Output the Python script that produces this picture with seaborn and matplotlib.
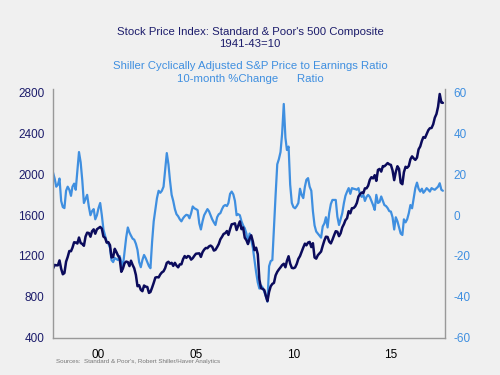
import matplotlib

matplotlib.use("Agg")
import matplotlib.dates as mdates
import matplotlib.pyplot as plt
import pandas as pd
import seaborn as sns

# Monthly observations, Mar 1998 - Mar 2018
START = "1998-03-01"
END = "2018-03-01"

# S&P 500 composite, monthly average (1941-43=10)
SP500 = [
    1076.8, 1112.2, 1108.4, 1108.4, 1156.6, 1074.6, 1020.6, 1032.5, 1144.4, 1190.1,
    1248.8, 1246.6, 1281.7, 1334.8, 1332.1, 1322.6, 1381.0, 1327.5, 1318.2, 1300.0, 1391.0, 1428.7,
    1425.6, 1388.9, 1442.2, 1461.4, 1418.5, 1462.0, 1473.0, 1485.5, 1468.1, 1390.1, 1378.0, 1330.9,
    1335.8, 1305.8, 1185.9, 1189.8, 1270.4, 1238.7, 1204.5, 1178.5, 1044.6, 1076.6, 1129.7, 1144.9,
    1140.2, 1100.7, 1153.8, 1112.0, 1079.3, 1014.0, 903.6, 912.6, 867.8, 854.6, 909.9, 899.2,
    895.8, 837.6, 846.6, 890.0, 936.0, 988.0, 992.5, 989.5, 1019.4, 1038.7, 1049.9, 1080.6,
    1132.5, 1143.4, 1124.0, 1133.1, 1102.8, 1132.8, 1105.8, 1088.9, 1117.7, 1118.1, 1168.9, 1199.2,
    1181.4, 1199.6, 1194.9, 1164.4, 1178.3, 1202.3, 1222.2, 1224.3, 1225.9, 1191.0, 1237.4, 1262.1,
    1278.7, 1276.7, 1293.7, 1302.2, 1290.0, 1253.1, 1260.2, 1287.2, 1317.8, 1363.4, 1388.6, 1416.4,
    1424.2, 1444.8, 1406.8, 1463.6, 1511.1, 1514.5, 1520.7, 1454.6, 1497.1, 1539.7, 1463.4, 1479.2,
    1378.8, 1354.9, 1316.9, 1370.5, 1403.2, 1341.3, 1257.3, 1281.5, 1217.0, 968.8, 883.0, 877.6,
    865.6, 805.2, 757.1, 848.2, 902.4, 926.1, 935.8, 1009.7, 1044.6, 1067.7, 1088.1, 1110.4,
    1123.6, 1089.2, 1152.0, 1197.3, 1125.1, 1083.4, 1079.8, 1087.3, 1122.1, 1171.6, 1198.9, 1241.5,
    1282.6, 1321.1, 1304.5, 1331.5, 1338.3, 1287.3, 1325.2, 1185.3, 1173.9, 1207.2, 1226.4, 1243.3,
    1300.6, 1352.5, 1389.2, 1386.4, 1341.3, 1323.5, 1359.8, 1403.4, 1443.4, 1437.8, 1394.5, 1422.3,
    1480.4, 1512.3, 1550.8, 1570.7, 1639.8, 1618.8, 1668.7, 1670.1, 1687.2, 1720.0, 1783.5, 1807.8,
    1822.4, 1817.0, 1863.5, 1864.3, 1889.8, 1947.1, 1973.1, 1961.5, 1993.2, 1937.3, 2044.6, 2054.3,
    2028.2, 2082.2, 2080.0, 2094.9, 2111.9, 2099.3, 2094.1, 2039.9, 1944.4, 2024.8, 2080.6, 2054.1,
    1918.6, 1904.4, 2022.0, 2075.5, 2065.6, 2083.9, 2148.9, 2177.5, 2157.7, 2143.0, 2165.0, 2246.6,
    2275.1, 2329.9, 2366.8, 2359.3, 2395.3, 2434.0, 2454.1, 2456.2, 2492.8, 2557.0, 2593.6, 2664.3,
    2789.8, 2705.2, 2702.8,
]

# Shiller CAPE, 10-month % change
CAPE_CHG = [
    21, 18, 14, 15, 18, 7, 4, 3.5, 12, 14,
    12.5, 9.5, 14, 15.5, 12.5, 22, 31, 26, 17, 6, 8, 10,
    4.3, 0, 2, 3, -2, 0, 3.5, 6, 0, -7, -10, -13,
    -14, -16, -22, -23, -21, -21.5, -22, -20, -23, -25, -18, -11,
    -6, -8.5, -10, -11.5, -12, -14, -17, -23, -25.5, -22, -19.5, -21,
    -23, -25, -26, -13, -3, 3, 8.4, 12, 11, 12, 14, 22,
    30.5, 25, 17, 10, 7, 3, 0.5, -0.5, -2, -3, -1.5, -0.5,
    0.2, 0, -1.5, 1, 4.3, 3.4, 3, 2.5, -4, -7, -3, 0,
    1.5, 3, 2, 0, -2, -3.5, -4.8, -1, 0.5, 1, 3, 4.5,
    5, 4.5, 6, 10.5, 11.6, 10.2, 7, 0, 0.5, 0, -3, -5,
    -6.4, -9, -14, -9, -12, -16, -22, -28, -33, -36, -34.5, -35.5,
    -37.5, -40, -42.4, -25, -22.5, -22, -6, 10, 25, 27.5, 31, 40,
    54.6, 38, 32, 33.7, 15, 6, 4, 3.4, 4.5, 6, 13, 10,
    8.4, 14, 17.4, 18.2, 14, 12, 2, -5, -8, -9, -10, -11,
    -5.5, -4, -1, -6, 1, 5.5, 7.5, 7.5, 7.5, -0.6, -4.8, -2,
    1, 6, 9.5, 11.6, 13.3, 10.5, 13.3, 13, 12.8, 12.5, 13.3, 10,
    9, 10, 7, 9, 10, 9, 7, 5, 2.6, 10, 6, 6.5,
    9.2, 7, 5, 4.5, 3.5, 2, 1.8, -1, -7, -1, -3, -6,
    -9, -9.7, -2, -3.5, -2, 1, 5, 3.4, 8.4, 13.3, 16, 13,
    11.6, 13, 11, 12, 13.3, 12.5, 11.6, 13.3, 12.8, 12.5, 13.3, 14,
    15.7, 12.5, 12,
]

YEAR_LABELS = ["00", "05", "10", "15"]
LABEL_YEARS = [2000, 2005, 2010, 2015]

NAVY = "#0b0b5c"
LIGHT = "#3f8fe0"
TITLE_NAVY = "#1c1c6b"

dates = pd.date_range(START, END, freq="MS")
df = pd.DataFrame({"date": dates, "sp500": SP500, "cape": CAPE_CHG})

sns.set_style("white")
plt.rcParams["font.family"] = ["Liberation Sans", "DejaVu Sans"]
plt.rcParams["axes.unicode_minus"] = False

fig = plt.figure(figsize=(5, 3.75), dpi=100, facecolor="#f0f0f0")
ax = fig.add_axes([0.106, 0.1, 0.784, 0.663])
ax2 = ax.twinx()

sns.lineplot(data=df, x="date", y="cape", ax=ax2, color=LIGHT, linewidth=1.6)
sns.lineplot(data=df, x="date", y="sp500", ax=ax, color=NAVY, linewidth=1.8)

# navy series above the light blue one
ax.set_zorder(ax2.get_zorder() + 1)
ax.patch.set_visible(False)
ax2.patch.set_facecolor("white")

ax.set_xlim(pd.Timestamp("1998-03-01"), pd.Timestamp("2018-04-10"))
ax.set_ylim(400, 2840)
ax2.set_ylim(-60, 62)

ax.set_yticks(range(400, 2801, 400))
ax2.set_yticks(range(-60, 61, 20))
ax.tick_params(axis="y", length=0, labelsize=8.5, labelcolor=TITLE_NAVY, pad=6)
ax2.tick_params(axis="y", length=0, labelsize=8.5, labelcolor=LIGHT, pad=6)

# year boundary ticks, labels centred mid-year
ax.xaxis.set_major_locator(mdates.YearLocator())
ax.xaxis.set_major_formatter(plt.NullFormatter())
ax.set_xticks([pd.Timestamp(f"{y}-07-01") for y in LABEL_YEARS], minor=True)
ax.set_xticklabels(YEAR_LABELS, minor=True)
ax.tick_params(axis="x", which="major", length=4, color="#888888", direction="out")
ax.tick_params(axis="x", which="minor", length=0, labelsize=8.5, labelcolor="black", pad=8)

for a in (ax, ax2):
    a.set_xlabel("")
    a.set_ylabel("")
    a.spines["top"].set_visible(False)
    for s in ("left", "right", "bottom"):
        a.spines[s].set_color("#999999")
        a.spines[s].set_linewidth(1.0)
ax.spines["right"].set_visible(False)
ax2.spines["left"].set_visible(False)
ax2.spines["bottom"].set_visible(False)

fig.text(0.5, 0.915, "Stock Price Index: Standard & Poor's 500 Composite",
         ha="center", va="center", fontsize=8.2, color=TITLE_NAVY)
fig.text(0.5, 0.882, "1941-43=10", ha="center", va="center", fontsize=8.2, color=TITLE_NAVY)
fig.text(0.5, 0.824, "Shiller Cyclically Adjusted S&P Price to Earnings Ratio",
         ha="center", va="center", fontsize=8.2, color=LIGHT)
fig.text(0.5, 0.79, "10-month %Change      Ratio", ha="center", va="center",
         fontsize=8.2, color=LIGHT)
fig.text(0.112, 0.035, "Sources:  Standard & Poor's, Robert Shiller/Haver Analytics",
         ha="left", va="center", fontsize=4.5, color="#777777")

fig.savefig("out.png", dpi=100, facecolor=fig.get_facecolor())
